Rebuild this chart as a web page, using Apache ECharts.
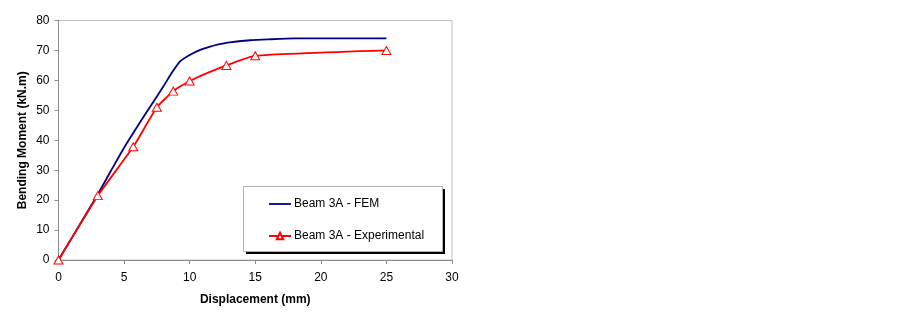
<!DOCTYPE html>
<html>
<head>
<meta charset="utf-8">
<script src="https://cdn.jsdelivr.net/npm/echarts@6/dist/echarts.min.js"></script>
<style>
  html, body { margin: 0; padding: 0; background: #fff; }
  #chart { width: 899px; height: 313px; }
</style>
</head>
<body>
<div id="chart"></div>
<script>
// FEM curve (Beam 3A)
const femX = [0, 1, 2, 3, 4, 5, 6, 7, 8, 8.6, 9.25, 10, 10.8, 11.5, 12.2, 12.9, 14.6, 16, 18, 20, 25]
const femY = [0, 7.3, 14.6, 22, 29.8, 37.5, 44.5, 51.3, 58, 62.3, 66.3, 68.5, 70.2, 71.2, 72, 72.6, 73.4, 73.7, 74, 74, 74]

// Experimental points (Beam 3A)
const expX = [0, 3, 5.7, 7.5, 8.75, 10, 12.8, 15, 25]
const expY = [0, 21.5, 37.8, 51, 56.4, 59.8, 65, 68.2, 70]

const xTicks = { min: 0, max: 30, step: 5 }
const yTicks = { min: 0, max: 80, step: 10 }

const pair = (xs, ys) => xs.map((x, i) => [x, ys[i]])

const chart = echarts.init(document.getElementById('chart'))

const font = 'Liberation Sans, Arial, sans-serif'

const option = {
  animation: false,
  backgroundColor: '#fff',
  textStyle: { fontFamily: font },
  grid: {
    left: 58.5,
    top: 20.5,
    right: 447,
    bottom: 53,
    show: true,
    borderColor: '#c0c0c0',
    borderWidth: 1,
    backgroundColor: '#fff'
  },
  // legend box: black shadow rect + white box on top
  graphic: [
    {
      type: 'rect',
      z: 3,
      shape: { x: 246, y: 189, width: 199, height: 65 },
      style: { fill: '#000' }
    },
    {
      type: 'rect',
      z: 4,
      shape: { x: 243.5, y: 186.5, width: 199, height: 65 },
      style: { fill: '#fff', stroke: '#b0b0b0', lineWidth: 1 }
    }
  ],
  legend: {
    orient: 'vertical',
    left: 243,
    top: 186,
    z: 6,
    padding: [12, 25, 10, 25],
    itemGap: 20,
    itemWidth: 22,
    itemHeight: 8,
    textStyle: { fontSize: 12, color: '#000', fontFamily: font, padding: [0, 0, 0, -2] },
    data: [
      { name: 'Beam 3A - FEM', icon: 'path://M0,0 L22,0 L22,1.8 L0,1.8 Z' },
      { name: 'Beam 3A - Experimental' }
    ]
  },
  xAxis: {
    type: 'value',
    min: xTicks.min,
    max: xTicks.max,
    interval: xTicks.step,
    name: 'Displacement (mm)',
    nameLocation: 'middle',
    nameGap: 34,
    nameTextStyle: { fontSize: 12, fontWeight: 'bold', color: '#000', fontFamily: font },
    axisLine: { show: true, lineStyle: { color: '#8c8c8c', width: 1 } },
    axisTick: { show: true, inside: false, length: 4, lineStyle: { color: '#8c8c8c' } },
    axisLabel: { fontSize: 12, color: '#000', margin: 12, fontFamily: font },
    splitLine: { show: false }
  },
  yAxis: {
    type: 'value',
    min: yTicks.min,
    max: yTicks.max,
    interval: yTicks.step,
    name: 'Bending Moment (kN.m)',
    nameLocation: 'middle',
    nameGap: 30,
    nameTextStyle: { fontSize: 12, fontWeight: 'bold', color: '#000', fontFamily: font },
    axisLine: { show: true, lineStyle: { color: '#8c8c8c', width: 1 } },
    axisTick: { show: true, inside: false, length: 4, lineStyle: { color: '#8c8c8c' } },
    axisLabel: { fontSize: 12, color: '#000', margin: 9, fontFamily: font },
    splitLine: { show: false }
  },
  series: [
    {
      name: 'Beam 3A - FEM',
      type: 'line',
      data: pair(femX, femY),
      showSymbol: false,
      symbol: 'none',
      smooth: 0.2,
      lineStyle: { color: '#000080', width: 1.8 },
      itemStyle: { color: '#000080' }
    },
    {
      name: 'Beam 3A - Experimental',
      type: 'line',
      data: pair(expX, expY),
      symbol: 'triangle',
      symbolSize: [9, 8],
      smooth: 0.15,
      lineStyle: { color: '#ff0000', width: 1.8 },
      itemStyle: { color: '#fff', borderColor: '#ff0000', borderWidth: 1 },
      z: 3
    }
  ]
}

chart.setOption(option)
</script>
</body>
</html>
